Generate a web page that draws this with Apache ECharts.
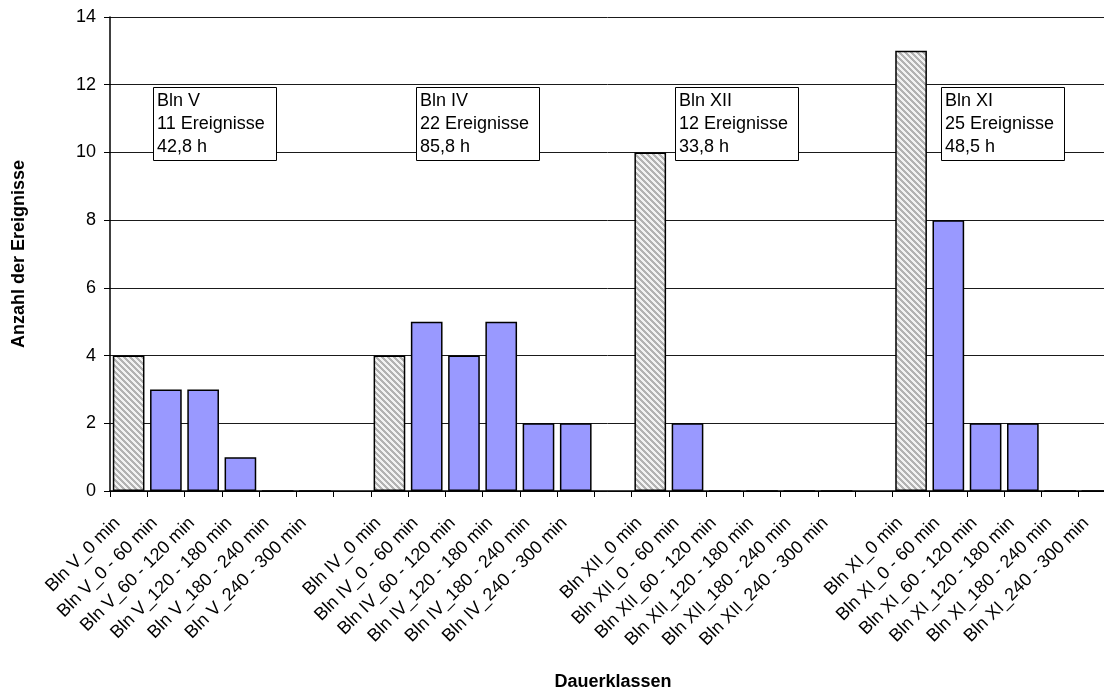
<!DOCTYPE html>
<html>
<head>
<meta charset="utf-8">
<script src="https://cdn.jsdelivr.net/npm/echarts@6/dist/echarts.min.js"></script>
<style>
html,body{margin:0;padding:0;background:#fff;}
#chart{width:1104px;height:689px;}
</style>
</head>
<body>
<div id="chart"></div>
<script>
// ---- data ----
const groups = ['Bln V', 'Bln IV', 'Bln XII', 'Bln XI'];
const classes = ['0 min', '0 - 60 min', '60 - 120 min', '120 - 180 min', '180 - 240 min', '240 - 300 min'];
const countsBlnV   = [4, 3, 3, 1, 0, 0];
const countsBlnIV  = [4, 5, 4, 5, 2, 2];
const countsBlnXII = [10, 2, 0, 0, 0, 0];
const countsBlnXI  = [13, 8, 2, 2, 0, 0];
const groupNames   = ['Bln V', 'Bln IV', 'Bln XII', 'Bln XI'];
const groupEvents  = ['11 Ereignisse', '22 Ereignisse', '12 Ereignisse', '25 Ereignisse'];
const groupHours   = ['42,8 h', '85,8 h', '33,8 h', '48,5 h'];
const yMin = 0, yMax = 14, yInterval = 2;
const xAxisTitle = 'Dauerklassen';
const yAxisTitle = 'Anzahl der Ereignisse';

const allCounts = [countsBlnV, countsBlnIV, countsBlnXII, countsBlnXI];

// ---- build categories (with blank separators) ----
const categories = [];
const values = [];
const isZeroClass = [];
groups.forEach((g, gi) => {
  classes.forEach((c, ci) => {
    categories.push(g + '_' + c);
    values.push(allCounts[gi][ci]);
    isZeroClass.push(ci === 0);
  });
  if (gi < groups.length - 1) {
    categories.push(' '.repeat(gi + 1));
    values.push(null);
    isZeroClass.push(false);
  }
});

// hatch pattern
function makeHatch() {
  const n = 6;
  const c = document.createElement('canvas');
  c.width = n; c.height = n;
  const ctx = c.getContext('2d');
  const img = ctx.createImageData(n, n);
  for (let y = 0; y < n; y++) {
    for (let x = 0; x < n; x++) {
      const k = ((x - y) % n + n) % n;
      const v = k < 3 ? 178 : 242;
      const p = (y * n + x) * 4;
      img.data[p] = v; img.data[p + 1] = v; img.data[p + 2] = v; img.data[p + 3] = 255;
    }
  }
  ctx.putImageData(img, 0, 0);
  return c;
}
const hatch = makeHatch();

const barData = values.map((v, i) => ({
  value: v,
  itemStyle: isZeroClass[i] ? { color: { image: hatch, repeat: 'repeat' } } : undefined
}));

const FONT = 'Liberation Sans, Arial, sans-serif';

// annotation boxes (layout)
const boxLefts = [153, 416, 675, 941];
const boxTop = 87, boxW = 123, boxH = 73;
const graphics = [];
groupNames.forEach((name, i) => {
  graphics.push({
    type: 'rect',
    shape: { x: boxLefts[i] + 0.5, y: boxTop + 0.5, width: boxW, height: boxH },
    style: { fill: '#fff', stroke: '#000', lineWidth: 1 },
    z: 100
  });
  graphics.push({
    type: 'text',
    x: boxLefts[i] + 4,
    y: boxTop + 3,
    style: {
      text: [name, groupEvents[i], groupHours[i]].join('\n'),
      font: '18px ' + FONT,
      fill: '#000',
      lineHeight: 23
    },
    z: 101
  });
});

const chart = echarts.init(document.getElementById('chart'), null, { renderer: 'canvas' });
chart.setOption({
  animation: false,
  backgroundColor: '#fff',
  grid: { left: 110, right: -12, top: 17, bottom: 198, containLabel: false, outerBoundsMode: 'none' },
  xAxis: {
    type: 'category',
    data: categories,
    name: xAxisTitle,
    nameLocation: 'middle',
    nameGap: 182,
    nameTextStyle: { fontFamily: FONT, fontSize: 18, fontWeight: 'bold', color: '#000' },
    axisLine: { lineStyle: { color: '#000', width: 1.5 } },
    axisTick: { show: true, length: 6, lineStyle: { color: '#000', width: 1 } },
    axisLabel: {
      interval: 0,
      rotate: 45,
      margin: 18,
      fontFamily: FONT,
      fontSize: 18,
      color: '#000',
      formatter: v => v.trim() ? '{t|' + v + '}{p| }' : '',
      rich: {
        t: { fontFamily: FONT, fontSize: 18, color: '#000' },
        p: { fontFamily: FONT, fontSize: 18, width: 16 }
      }
    },
    splitLine: { show: false }
  },
  yAxis: {
    type: 'value',
    min: yMin,
    max: yMax,
    interval: yInterval,
    name: yAxisTitle,
    nameLocation: 'middle',
    nameGap: 82,
    nameTextStyle: { fontFamily: FONT, fontSize: 18, fontWeight: 'bold', color: '#000' },
    axisLine: { show: true, lineStyle: { color: '#000', width: 1.5 } },
    axisTick: { show: true, length: 6, lineStyle: { color: '#000' } },
    axisLabel: { margin: 14, fontFamily: FONT, fontSize: 18, color: '#000' },
    splitLine: { show: true, lineStyle: { color: '#1a1a1a', width: 1 } }
  },
  series: [{
    type: 'bar',
    data: barData,
    barCategoryGap: '15%',
    itemStyle: { color: '#9999FF', borderColor: '#000', borderWidth: 1.5 },
    z: 3
  }],
  graphic: graphics
});
</script>
</body>
</html>
